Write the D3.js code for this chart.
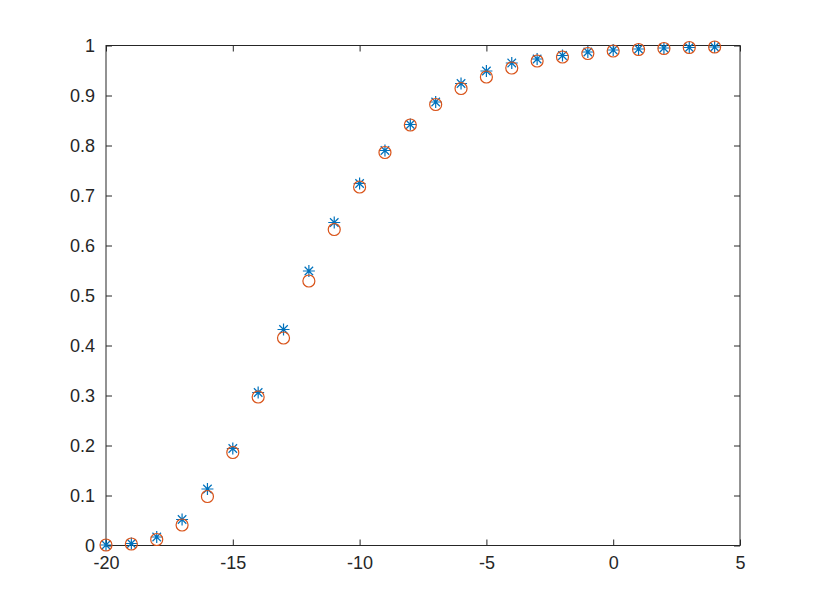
<!DOCTYPE html>
<html>
<head>
<meta charset="utf-8">
<script src="https://cdn.jsdelivr.net/npm/d3@7"></script>
<style>
  body { margin: 0; background: #fff; }
  svg text.lbl { font-family: "Liberation Sans", Arial, sans-serif; font-size: 18px; fill: #262626; }
</style>
</head>
<body>
<div id="chart"></div>
<script>
const xs = [-20, -19, -18, -17, -16, -15, -14, -13, -12, -11, -10, -9, -8, -7, -6, -5, -4, -3, -2, -1, 0, 1, 2, 3, 4]
const starVals = [0.001, 0.004, 0.017, 0.052, 0.113, 0.194, 0.306, 0.432, 0.549, 0.646, 0.724, 0.790, 0.842, 0.887, 0.924, 0.949, 0.965, 0.973, 0.980, 0.987, 0.991, 0.993, 0.995, 0.996, 0.997]
const circleVals = [0.001, 0.003, 0.012, 0.041, 0.098, 0.186, 0.297, 0.415, 0.529, 0.632, 0.717, 0.786, 0.841, 0.882, 0.914, 0.937, 0.955, 0.969, 0.977, 0.984, 0.989, 0.992, 0.994, 0.996, 0.997]
const xTicks = [-20, -15, -10, -5, 0, 5]
const yTicks = [0, 0.1, 0.2, 0.3, 0.4, 0.5, 0.6, 0.7, 0.8, 0.9, 1]

const width = 817
const height = 613
const plotLeft = 106, plotRight = 740, plotTop = 45.5, plotBottom = 545.5
const axisColor = '#262626'
const tickLen = 6

const svg = d3.select('#chart')
    .append('svg')
    .attr('width', width)
    .attr('height', height)

const xScale = d3.scaleLinear().domain([-20, 5]).range([plotLeft, plotRight])
const yScale = d3.scaleLinear().domain([0, 1]).range([plotBottom, plotTop])

// box
svg.append('rect')
    .attr('x', plotLeft)
    .attr('y', plotTop)
    .attr('width', plotRight - plotLeft)
    .attr('height', plotBottom - plotTop)
    .attr('fill', 'none')
    .attr('stroke', axisColor)
    .attr('stroke-width', 1)

// axes with inward ticks, mirrored on top/right; plain hyphen for minus like MATLAB
const fmt = d => String(d)
svg.append('g')
    .attr('transform', `translate(0, ${plotBottom})`)
    .call(d3.axisBottom(xScale).tickValues(xTicks).tickSizeInner(-tickLen).tickSizeOuter(0).tickPadding(11).tickFormat(fmt))
svg.append('g')
    .attr('transform', `translate(0, ${plotTop})`)
    .call(d3.axisTop(xScale).tickValues(xTicks).tickSizeInner(-tickLen).tickSizeOuter(0).tickFormat(''))
svg.append('g')
    .attr('transform', `translate(${plotLeft}, 0)`)
    .call(d3.axisLeft(yScale).tickValues(yTicks).tickSizeInner(-tickLen).tickSizeOuter(0).tickPadding(11).tickFormat(fmt))
svg.append('g')
    .attr('transform', `translate(${plotRight}, 0)`)
    .call(d3.axisRight(yScale).tickValues(yTicks).tickSizeInner(-tickLen).tickSizeOuter(0).tickFormat(''))

svg.selectAll('.domain').remove()
svg.selectAll('.tick line').attr('stroke', axisColor)
svg.selectAll('.tick text')
    .attr('class', 'lbl')
    .style('font-size', '18px')

// star markers
const starSize = 6
const stars = svg.append('g').attr('stroke', '#0072BD').attr('stroke-width', 1.2).attr('fill', 'none')
xs.forEach((x, i) => {
    const cx = xScale(x), cy = yScale(starVals[i])
    const d = starSize * 0.7071
    stars.append('path')
        .attr('d', `M${cx - starSize},${cy}L${cx + starSize},${cy}` +
            `M${cx},${cy - starSize}L${cx},${cy + starSize}` +
            `M${cx - d},${cy - d}L${cx + d},${cy + d}` +
            `M${cx - d},${cy + d}L${cx + d},${cy - d}`)
})

// circle markers
svg.append('g')
    .selectAll('circle')
    .data(circleVals)
    .enter()
    .append('circle')
    .attr('cx', (d, i) => xScale(xs[i]))
    .attr('cy', d => yScale(d))
    .attr('r', 6)
    .attr('fill', 'none')
    .attr('stroke', '#D95319')
    .attr('stroke-width', 1.2)
</script>
</body>
</html>
